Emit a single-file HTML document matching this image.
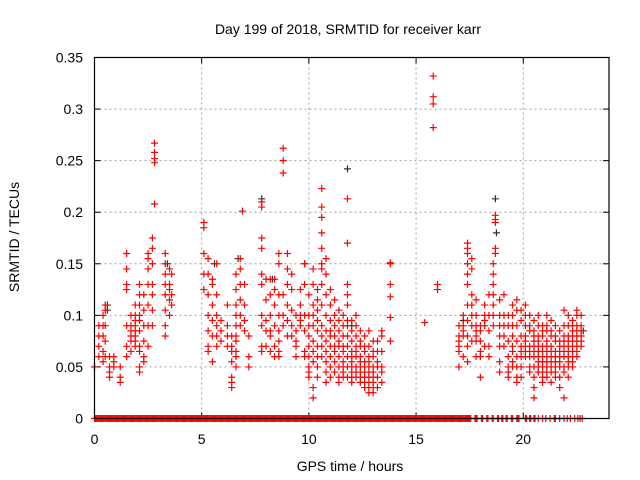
<!DOCTYPE html>
<html><head><meta charset="utf-8"><style>
body{margin:0;background:#fff;}
svg{display:block;font-family:"Liberation Sans",sans-serif;}
</style></head><body>
<svg id="chart" width="640" height="480">
<text x="348" y="34" font-size="14" text-anchor="middle" fill="#000">Day 199 of 2018, SRMTID for receiver karr</text>
<text x="350" y="471" font-size="14" text-anchor="middle" fill="#000">GPS time / hours</text>
<text x="19" y="237" font-size="14" text-anchor="middle" fill="#000" transform="rotate(-90 19 237)">SRMTID / TECUs</text>
<g id="grid"></g>
<g id="axes"></g>
<g id="marks"></g>
<rect x="94.5" y="57.5" width="514.5" height="361" fill="none" stroke="#000" stroke-width="1.2"/>
</svg>
<script>
const xTicks=[0,5,10,15,20];
const yTicks=[0,0.05,0.1,0.15,0.2,0.25,0.3,0.35];
const yTickLabels=["0","0.05","0.1","0.15","0.2","0.25","0.3","0.35"];
const redTimes=[0.0,0.2,0.4,0.5,0.7,0.9,1.2,1.5,1.7,1.9,2.1,2.3,2.5,2.7,2.8,3.3,3.5,3.6,
5.1,5.3,5.5,5.7,5.9,6.2,6.4,6.6,6.8,6.9,7.0,7.2,
7.8,8.0,8.2,8.4,8.6,8.8,9.0,9.2,9.4,9.6,9.8,
10.0,10.2,10.4,10.6,10.8,11.0,11.2,11.4,11.6,11.8,12.0,12.2,12.4,12.6,12.8,13.0,13.2,13.4,13.8,15.4,15.8,16.0,
17.0,17.2,17.4,17.6,17.8,18.0,18.2,18.4,18.6,18.7,18.9,19.1,19.3,
19.5,19.7,19.9,20.1,20.3,20.5,20.7,20.9,21.1,21.3,21.5,21.7,21.9,22.1,22.3,22.5,22.7];
const redValues=[
[0.05,0.05],[0.09,0.08,0.07,0.06],[0.10,0.09,0.08,0.065,0.055],[0.11,0.105,0.09,0.075,0.06],[0.06,0.05,0.04,0.045],[0.06,0.055,0.05],
[0.05,0.04,0.035],[0.16,0.145,0.13,0.125,0.09,0.07,0.06],[0.1,0.09,0.085,0.08,0.075,0.065],[0.11,0.1,0.095,0.09,0.085,0.08,0.075,0.07],
[0.13,0.12,0.11,0.10,0.095,0.085,0.07,0.065,0.05,0.045],[0.12,0.105,0.09,0.075,0.06,0.055],[0.16,0.155,0.145,0.13,0.11,0.09,0.07],
[0.175,0.165,0.15,0.13,0.12,0.105,0.09],[0.267,0.258,0.252,0.248,0.208],[0.16,0.15,0.14,0.13,0.12,0.105,0.09,0.08],[0.145,0.13,0.125,0.115,0.1],[0.14,0.12,0.11],
[0.19,0.185,0.16,0.14,0.125],[0.155,0.14,0.12,0.1,0.085,0.07,0.065],[0.135,0.13,0.11,0.095,0.08,0.055],[0.15,0.12,0.1,0.09,0.08,0.07],[0.095,0.085,0.075],
[0.11,0.09,0.08,0.07],[0.08,0.07,0.065,0.055,0.04,0.035,0.03],[0.14,0.125,0.11,0.1,0.09,0.08,0.075,0.065,0.06,0.05],[0.155,0.145,0.13,0.115,0.1,0.09],
[0.201],[0.13,0.11,0.095,0.085],[0.08,0.06,0.05],
[0.21,0.205,0.175,0.165,0.14,0.13,0.1,0.09,0.07,0.065],[0.135,0.115,0.095,0.085,0.07],[0.135,0.12,0.1,0.085,0.08,0.065],[0.135,0.125,0.11,0.09,0.07,0.06],
[0.16,0.15,0.12,0.1,0.085,0.075,0.065,0.06],[0.262,0.25,0.238,0.12,0.1,0.09],[0.16,0.145,0.13,0.11,0.095,0.08],[0.14,0.125,0.105,0.09,0.08],
[0.1,0.085,0.075,0.07,0.06],[0.125,0.11,0.1,0.095,0.09],[0.15,0.13,0.1,0.085,0.065,0.06],
[0.12,0.1,0.09,0.08,0.07,0.06,0.05,0.045,0.04],[0.145,0.13,0.11,0.1,0.09,0.075,0.065,0.055,0.03,0.02],[0.125,0.115,0.105,0.095,0.085,0.07,0.06,0.05,0.04],
[0.223,0.205,0.195,0.18,0.165,0.15,0.145,0.13,0.11,0.09,0.08,0.07,0.06],[0.155,0.14,0.12,0.1,0.085,0.075,0.065,0.055,0.045,0.035],
[0.125,0.11,0.095,0.085,0.08,0.07,0.06,0.05,0.04],[0.115,0.1,0.09,0.08,0.07,0.065,0.055,0.045],[0.105,0.095,0.085,0.075,0.07,0.06,0.05,0.04,0.035],
[0.1,0.09,0.08,0.07,0.065,0.055,0.05,0.045,0.04],[0.213,0.17,0.13,0.12,0.11,0.095,0.09,0.08,0.07,0.06,0.05,0.04],
[0.095,0.085,0.075,0.065,0.06,0.055,0.05,0.045,0.04,0.035],[0.1,0.09,0.08,0.07,0.065,0.06,0.05,0.045,0.04],[0.085,0.075,0.07,0.06,0.055,0.05,0.045,0.04,0.035],
[0.08,0.07,0.065,0.055,0.05,0.045,0.04,0.035,0.03],[0.085,0.07,0.06,0.055,0.05,0.045,0.04,0.035,0.03,0.025],[0.075,0.065,0.06,0.05,0.045,0.04,0.035,0.03,0.025],
[0.075,0.065,0.055,0.05,0.04,0.03],[0.085,0.08,0.065,0.05,0.045,0.035],[0.151,0.15,0.13,0.118,0.098,0.075],[0.093],[0.332,0.312,0.305,0.282],[0.13,0.125],
[0.09,0.08,0.075,0.07,0.065,0.05],[0.1,0.09,0.085,0.08,0.06],[0.17,0.165,0.16,0.15,0.14,0.13,0.11,0.095,0.08,0.07,0.055],[0.155,0.145,0.12,0.11,0.1,0.09,0.075],
[0.115,0.1,0.09,0.085,0.08,0.075,0.06],[0.09,0.085,0.075,0.065,0.06,0.04],[0.11,0.1,0.095,0.09,0.07],[0.12,0.1,0.085,0.07,0.06],
[0.15,0.14,0.13,0.12,0.11,0.1,0.09],[0.197,0.193,0.19,0.165,0.16],[0.115,0.1,0.09,0.08,0.07,0.055,0.045],[0.12,0.1,0.09,0.08,0.07],[0.1,0.09,0.075,0.06,0.05,0.045,0.04],
[0.11,0.1,0.09,0.08,0.07,0.065,0.055,0.05],[0.115,0.105,0.09,0.075,0.06,0.05,0.04,0.035],[0.105,0.095,0.08,0.07,0.065,0.06,0.05,0.04],
[0.11,0.1,0.09,0.08,0.075,0.07,0.065,0.06],[0.1,0.09,0.085,0.07,0.065,0.06,0.05,0.045],[0.095,0.085,0.08,0.075,0.07,0.065,0.06,0.05,0.04,0.03,0.02],
[0.1,0.09,0.08,0.075,0.07,0.065,0.06,0.055,0.05,0.045],[0.09,0.085,0.08,0.07,0.065,0.06,0.055,0.05,0.045,0.04,0.035],
[0.1,0.09,0.085,0.075,0.07,0.065,0.06,0.055,0.05,0.045,0.04],[0.095,0.085,0.08,0.07,0.065,0.06,0.055,0.05,0.045,0.035],
[0.09,0.08,0.075,0.065,0.06,0.055,0.05,0.045,0.04],[0.085,0.075,0.07,0.065,0.06,0.055,0.05,0.04,0.03],
[0.105,0.09,0.08,0.075,0.07,0.065,0.06,0.05,0.045,0.02],[0.1,0.09,0.08,0.075,0.07,0.065,0.06,0.055,0.05,0.04],
[0.095,0.09,0.085,0.08,0.075,0.07,0.065,0.06,0.055,0.05],[0.105,0.1,0.09,0.085,0.08,0.075,0.07,0.065,0.06],[0.1,0.09,0.085,0.08,0.075,0.07]];
const blackTimes=[0.6,0.6,5.6,6.7,7.8,9.8,11.8,12.0,17.2,18.7,18.75,22.8,3.4,8.3];
const blackValues=[0.11,0.105,0.15,0.155,0.213,0.15,0.242,0.09,0.095,0.213,0.18,0.085,0.15,0.135];
const zeroTimes=[0,0.05,0.1,0.15,0.2,0.25,0.3,0.35,0.4,0.45,0.5,0.55,0.6,0.65,0.7,0.75,0.8,0.85,0.9,0.95,1.0,1.05,1.1,1.15,1.2,1.25,1.3,1.35,1.4,1.45,1.5,1.55,1.6,1.65,1.7,1.75,1.8,1.85,1.9,1.95,
2.0,2.05,2.1,2.15,2.2,2.25,2.3,2.35,2.4,2.45,2.5,2.55,2.6,2.65,2.7,2.75,2.8,2.85,2.9,2.95,3.0,3.05,3.1,3.15,3.2,3.25,3.3,3.35,3.4,3.45,3.5,3.55,3.6,3.65,3.7,3.75,3.8,3.85,3.9,3.95,
4.0,4.05,4.1,4.15,4.2,4.25,4.3,4.35,4.4,4.45,4.5,4.55,4.6,4.65,4.7,4.75,4.8,4.85,4.9,4.95,5.0,5.05,5.1,5.15,5.2,5.25,5.3,5.35,5.4,5.45,5.5,5.55,5.6,5.65,5.7,5.75,5.8,5.85,5.9,5.95,
6.0,6.05,6.1,6.15,6.2,6.25,6.3,6.35,6.4,6.45,6.5,6.55,6.6,6.65,6.7,6.75,6.8,6.85,6.9,6.95,7.0,7.05,7.1,7.15,7.2,7.25,7.3,7.35,7.4,7.45,7.5,7.55,7.6,7.65,7.7,7.75,7.8,7.85,7.9,7.95,
8.0,8.05,8.1,8.15,8.2,8.25,8.3,8.35,8.4,8.45,8.5,8.55,8.6,8.65,8.7,8.75,8.8,8.85,8.9,8.95,9.0,9.05,9.1,9.15,9.2,9.25,9.3,9.35,9.4,9.45,9.5,9.55,9.6,9.65,9.7,9.75,9.8,9.85,9.9,9.95,
10.0,10.05,10.1,10.15,10.2,10.25,10.3,10.35,10.4,10.45,10.5,10.55,10.6,10.65,10.7,10.75,10.8,10.85,10.9,10.95,11.0,11.05,11.1,11.15,11.2,11.25,11.3,11.35,11.4,11.45,11.5,11.55,11.6,11.65,11.7,11.75,11.8,11.85,11.9,11.95,
12.0,12.05,12.1,12.15,12.2,12.25,12.3,12.35,12.4,12.45,12.5,12.55,12.6,12.65,12.7,12.75,12.8,12.85,12.9,12.95,13.0,13.05,13.1,13.15,13.2,13.25,13.3,13.35,13.4,13.45,13.5,13.55,13.6,13.65,13.7,13.75,13.8,13.85,13.9,13.95,
14.0,14.05,14.1,14.15,14.2,14.25,14.3,14.35,14.4,14.45,14.5,14.55,14.6,14.65,14.7,14.75,14.8,14.85,14.9,14.95,15.0,15.05,15.1,15.15,15.2,15.25,15.3,15.35,15.4,15.45,15.5,15.55,15.6,15.65,15.7,15.75,15.8,15.85,15.9,15.95,
16.0,16.05,16.1,16.15,16.2,16.25,16.3,16.35,16.4,16.45,16.5,16.55,16.6,16.65,16.7,16.75,16.8,16.85,16.9,16.95,17.0,17.05,17.1,17.15,17.2,17.25,17.3,17.35,17.4,17.45,17.5,17.55,
17.75,17.8,17.85,18.05,18.1,18.3,18.35,18.55,18.6,18.8,18.85,19.0,19.05,19.2,19.25,19.45,19.5,19.7,19.75,19.8,20.1,20.15,20.3,20.35,20.5,20.55,20.7,20.9,21.05,21.25,21.45,21.5,21.7,21.9,22.05,22.2,22.4,22.55,22.65,22.75];
const NS="http://www.w3.org/2000/svg";
const X0=94.5,X1=609,Y0=418.5,Y1=57.5;
function xs(t){return X0+(t/24)*(X1-X0);}
function ys(v){return Y0-(v/0.35)*(Y0-Y1);}
function mk(tag,attrs,parent){const e=document.createElementNS(NS,tag);for(const k in attrs)e.setAttribute(k,attrs[k]);parent.appendChild(e);return e;}
const grid=document.getElementById('grid'),axes=document.getElementById('axes'),marks=document.getElementById('marks');
xTicks.forEach((t,i)=>{const x=xs(t);
 if(t>0){const g=mk('line',{x1:x,x2:x,y1:Y1,y2:Y0,stroke:'#a0a0a0','stroke-dasharray':'2,3'},grid);
 
 }
 mk('line',{x1:x,x2:x,y1:Y0,y2:Y0-6,stroke:'#000'},axes);
 mk('line',{x1:x,x2:x,y1:Y1,y2:Y1+6,stroke:'#000'},axes);
 const l=mk('text',{x:x,y:444,'font-size':14,'text-anchor':'middle',fill:'#000'},axes);l.textContent=t;
 
 
});
yTicks.forEach((v,i)=>{const y=ys(v);
 if(v>0&&v<0.35){const g=mk('line',{x1:X0,x2:X1,y1:y,y2:y,stroke:'#a0a0a0','stroke-dasharray':'2,3'},grid);
 
 }
 mk('line',{x1:X0,x2:X0+6,y1:y,y2:y,stroke:'#000'},axes);
 mk('line',{x1:X1,x2:X1-6,y1:y,y2:y,stroke:'#000'},axes);
 const l=mk('text',{x:83,y:y+5,'font-size':14,'text-anchor':'end',fill:'#000'},axes);l.textContent=yTickLabels[i];
 
 
});
function plus(t,v,color,name){const x=xs(t),y=ys(v);
 const p=mk('path',{d:`M${x-3.5},${y}H${x+3.5}M${x},${y-3.5}V${y+3.5}`,stroke:color,'stroke-width':1.2,fill:'none'},marks);
 
 
}
blackTimes.forEach((t,i)=>plus(t,blackValues[i],'#303030','black-point'));
redTimes.forEach((t,i)=>redValues[i].forEach(v=>plus(t,v,'#ff0000','red-point')));
zeroTimes.forEach(t=>plus(t,0,'#ff0000','zero-point'));
</script>
</body></html>
